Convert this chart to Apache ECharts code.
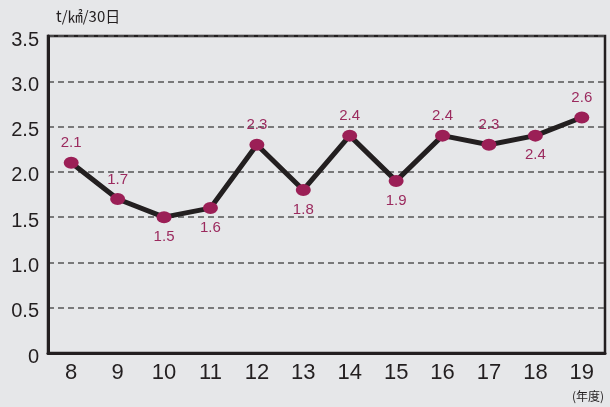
<!DOCTYPE html>
<html><head><meta charset="utf-8">
<script src="https://cdn.jsdelivr.net/npm/echarts@6/dist/echarts.min.js"></script>
<style>html,body{margin:0;padding:0;background:#e6e7e9;}#c{width:610px;height:407px;}</style>
</head><body><div id="c"></div>
<script>
var categories = ['8','9','10','11','12','13','14','15','16','17','18','19'];
var values = [2.1, 1.7, 1.5, 1.6, 2.3, 1.8, 2.4, 1.9, 2.4, 2.3, 2.4, 2.6];
var labelPositions = ['top','top','bottom','bottom','top','bottom','top','bottom','top','top','bottom','top'];
var yTicks = ['0','0.5','1.0','1.5','2.0','2.5','3.0','3.5'];

var chart = echarts.init(document.getElementById('c'), null, {renderer:'canvas'});
var dataPts = values.map(function(v,i){
  return {value:v, label:{position:labelPositions[i]}};
});
chart.setOption({
  backgroundColor:'#e6e7e9',
  animation:false,
  grid:{left:48, right:5, top:36, bottom:54, show:true, borderColor:'#231f20', borderWidth:2.5, backgroundColor:'transparent'},
  title:[
    {text:'t/㎢/30日', left:51, top:4, textStyle:{fontSize:15, fontWeight:'normal', color:'#231f20', fontFamily:'Noto Sans CJK JP'}},
    {text:'(年度)', right:1, top:385, textStyle:{fontSize:12, fontWeight:'normal', color:'#231f20', fontFamily:'Noto Sans CJK JP'}}
  ],
  xAxis:{type:'category', data:categories, boundaryGap:true,
    axisLine:{show:true, lineStyle:{color:'#231f20', width:3}},
    axisTick:{show:false},
    axisLabel:{fontSize:22, color:'#231f20', margin:9, fontFamily:'Liberation Sans'}
  },
  yAxis:{type:'value', min:0, max:3.5, interval:0.5,
    axisLine:{show:true, lineStyle:{color:'#231f20', width:3}},
    axisTick:{show:false},
    splitLine:{show:true, lineStyle:{color:'#555', type:[6,4], width:1.5}},
    axisLabel:{fontSize:20, color:'#231f20', margin:9, verticalAlign:'top', padding:[-6,0,0,0], fontFamily:'Liberation Sans',
      formatter:function(v){ return yTicks[Math.round(v/0.5)]; }}
  },
  series:[{
    type:'line', data:dataPts,
    symbol:'circle', symbolSize:[15,12],
    lineStyle:{color:'#231f20', width:5},
    itemStyle:{color:'#9b1f56'},
    label:{show:true, fontSize:15, color:'#9b2a5e', distance:6, fontFamily:'Liberation Sans',
      formatter:function(p){return p.value.toFixed(1);}},
    z:5
  }]
});
</script></body></html>
